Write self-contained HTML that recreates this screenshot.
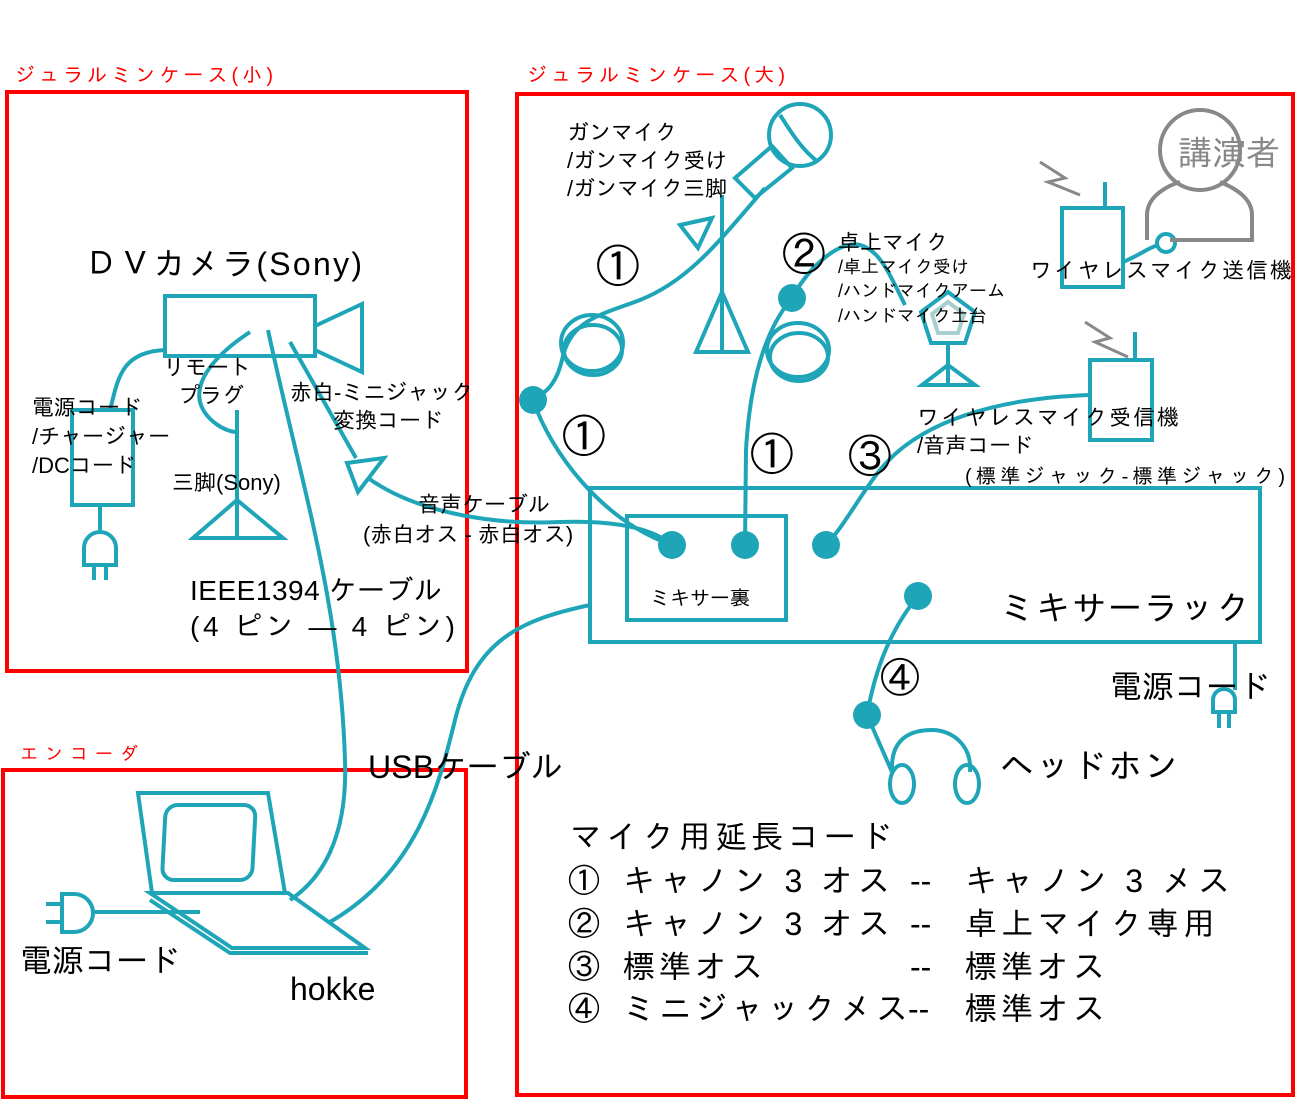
<!DOCTYPE html>
<html><head><meta charset="utf-8"><style>
html,body{margin:0;padding:0;background:#fff;}
svg{display:block;}
text{font-family:"Liberation Sans","IPAGothic","Noto Sans CJK JP",sans-serif;fill:#000;}
.r{fill:#f00;}
</style></head><body>
<svg width="1296" height="1100" viewBox="0 0 1296 1100" xmlns="http://www.w3.org/2000/svg">
<g fill="none" stroke="#f00" stroke-width="4">
<rect x="7" y="92" width="460" height="579"/>
<rect x="517" y="94" width="776" height="1001"/>
<rect x="3" y="770" width="463" height="327"/>
</g>
<text x="15" y="82" font-size="20" class="r" textLength="258">ジュラルミンケース(小)</text>
<text x="527" y="82" font-size="20" class="r" textLength="258">ジュラルミンケース(大)</text>
<text x="20" y="760" font-size="18" class="r" textLength="118">エンコーダ</text>

<g fill="none" stroke="#1fa5b8" stroke-width="4">
<rect x="165" y="296" width="150" height="60"/>
<polygon points="315,326 362,304 362,372 315,350"/>
<rect x="72" y="410" width="61" height="95"/>
<line x1="100" y1="505" x2="100" y2="530"/>
<path d="M84,565 L84,548 A16,16 0 0 1 116,548 L116,565 Z"/>
<line x1="94" y1="565" x2="94" y2="580"/><line x1="106" y1="565" x2="106" y2="580"/>
<path d="M110,410 C118,380 120,352 165,350"/>
<line x1="237" y1="410" x2="237" y2="538"/>
<polygon points="193,538 237,500 283,538"/>
<path d="M250,332 C215,355 195,380 200,402 C205,420 225,432 237,432"/>
<path d="M268,330 C300,480 340,600 345,760 C348,840 320,880 290,900"/>
<line x1="290" y1="342" x2="356" y2="458"/>
<polygon points="347,463 384,458 358,492"/>
<path d="M368,478 C420,515 500,525 560,522 C620,520 655,530 672,545"/>
<polygon points="138,793 268,793 285,893 152,893"/>
<rect x="165" y="805" width="90" height="75" rx="12" transform="skewX(-3) translate(43,0)"/>
<polygon points="150,893 288,893 365,948 232,948"/>
<polyline points="150,900 230,953 368,953"/>
<path d="M62,894 L74,894 A19,19 0 0 1 74,932 L62,932 Z"/>
<line x1="46" y1="904" x2="62" y2="904"/><line x1="46" y1="922" x2="62" y2="922"/>
<line x1="92" y1="912" x2="200" y2="912"/>
<path d="M330,922 C420,870 440,780 455,720 C475,640 520,620 590,605"/>
<rect x="590" y="488" width="670" height="154"/>
<rect x="627" y="516" width="159" height="104"/>
<line x1="1235" y1="642" x2="1235" y2="690"/>
<path d="M1213,712 L1213,700 A11,11 0 0 1 1235,700 L1235,712 Z"/>
<line x1="1219" y1="712" x2="1219" y2="728"/><line x1="1229" y1="712" x2="1229" y2="728"/>
<path d="M918,596 C890,630 875,670 867,715"/>
<path d="M867,715 L892,772"/>
<path d="M892,772 C890,735 915,730 932,730 C952,730 972,745 970,772"/>
<ellipse cx="902" cy="784" rx="12" ry="19"/>
<ellipse cx="967" cy="784" rx="12" ry="19"/>
<circle cx="800" cy="135" r="31"/>
<path d="M780,115 C790,130 800,148 818,162"/>
<polygon points="735,178 772,146 792,168 755,198"/>
<line x1="722" y1="195" x2="722" y2="352"/>
<polygon points="696,352 722,292 748,352"/>
<polygon points="680,225 712,218 698,248"/>
<path d="M765,188 C720,240 690,280 640,300 C600,315 570,320 562,360 C555,390 540,395 533,400"/>
<ellipse cx="592" cy="343" rx="31" ry="28"/>
<ellipse cx="593" cy="350" rx="29" ry="25"/>
<path d="M533,400 C550,450 600,520 672,545"/>
<path d="M792,298 C810,265 840,240 860,245 C880,250 890,275 905,305"/>
<polygon points="948,292 975,312 965,343 931,343 921,312"/>
<polygon points="948,302 964,314 958,333 938,333 932,314" stroke="#a8cfcf"/>
<line x1="948" y1="343" x2="948" y2="385"/>
<polygon points="922,385 948,365 975,385"/>
<ellipse cx="798" cy="350" rx="31" ry="27"/>
<ellipse cx="799" cy="357" rx="29" ry="24"/>
<path d="M792,298 C765,330 750,380 746,450 L745,545"/>
<rect x="1062" y="208" width="61" height="79"/>
<line x1="1105" y1="182" x2="1105" y2="208"/>
<path d="M1123,262 C1140,255 1148,248 1158,245"/>
<circle cx="1166" cy="243" r="9"/>
<rect x="1090" y="360" width="62" height="80"/>
<line x1="1135" y1="332" x2="1135" y2="360"/>
<path d="M1090,395 C1000,398 920,420 880,470 C860,495 845,525 826,545"/>
</g>
<g fill="none" stroke="#888" stroke-width="4">
<circle cx="1200" cy="150" r="40"/>
<path d="M1147,240 L1147,215 C1147,195 1170,185 1180,182 M1220,182 C1235,188 1252,198 1252,215 L1252,240 L1170,240"/>
<polyline points="1040,162 1065,178 1048,182 1080,195" stroke-width="3"/>
<polyline points="1085,322 1110,338 1095,342 1128,357" stroke-width="3"/>
</g>
<g fill="#1fa5b8">
<circle cx="533" cy="400" r="14"/>
<circle cx="792" cy="298" r="14"/>
<circle cx="672" cy="545" r="14"/>
<circle cx="745" cy="545" r="14"/>
<circle cx="826" cy="545" r="14"/>
<circle cx="918" cy="596" r="14"/>
<circle cx="867" cy="715" r="14"/>
</g>

<text x="85" y="275" font-size="32" textLength="277">ＤＶカメラ(Sony)</text>
<text x="32" y="415" font-size="22">電源コード</text>
<text x="32" y="444" font-size="22">/チャージャー</text>
<text x="32" y="473" font-size="22">/DCコード</text>
<text x="163" y="375" font-size="22">リモート</text>
<text x="178" y="403" font-size="22">プラグ</text>
<text x="172" y="490" font-size="22">三脚(Sony)</text>
<text x="290" y="400" font-size="22">赤白-ミニジャック</text>
<text x="333" y="428" font-size="22">変換コード</text>
<text x="418" y="512" font-size="22">音声ケーブル</text>
<text x="363" y="542" font-size="22">(赤白オス - 赤白オス)</text>
<text x="190" y="600" font-size="28" textLength="252">IEEE1394 ケーブル</text>
<text x="190" y="636" font-size="28" textLength="265">(4 ピン — 4 ピン)</text>
<text x="20" y="972" font-size="32">電源コード</text>
<text x="290" y="1000" font-size="32">hokke</text>
<text x="368" y="778" font-size="32" textLength="195">USBケーブル</text>

<text x="567" y="140" font-size="22">ガンマイク</text>
<text x="567" y="168" font-size="22">/ガンマイク受け</text>
<text x="567" y="196" font-size="22">/ガンマイク三脚</text>
<text x="838" y="250" font-size="22">卓上マイク</text>
<text x="838" y="273" font-size="18">/卓上マイク受け</text>
<text x="838" y="297" font-size="18">/ハンドマイクアーム</text>
<text x="838" y="322" font-size="18">/ハンドマイク土台</text>
<text x="1178" y="165" font-size="34" style="fill:#888">講演者</text>
<text x="1030" y="278" font-size="22" textLength="262">ワイヤレスマイク送信機</text>
<text x="917" y="425" font-size="22" textLength="262">ワイヤレスマイク受信機</text>
<text x="917" y="453" font-size="22">/音声コード</text>
<text x="965" y="483" font-size="20" textLength="320">(標準ジャック-標準ジャック)</text>
<text x="596" y="282" font-size="44">①</text>
<text x="562" y="452" font-size="44">①</text>
<text x="750" y="470" font-size="44">①</text>
<text x="782" y="270" font-size="44">②</text>
<text x="848" y="472" font-size="44">③</text>
<text x="880" y="692" font-size="40">④</text>
<text x="650" y="605" font-size="20">ミキサー裏</text>
<text x="1000" y="620" font-size="34" textLength="250">ミキサーラック</text>
<text x="1110" y="698" font-size="32">電源コード</text>
<text x="1000" y="778" font-size="34" textLength="178">ヘッドホン</text>

<text x="570" y="848" font-size="32" textLength="322">マイク用延長コード</text>
<g font-size="32">
<text x="568" y="892">①</text><text x="623" y="892" textLength="267">キャノン 3 オス</text><text x="910" y="892">--</text><text x="965" y="892" textLength="265">キャノン 3 メス</text>
<text x="568" y="935">②</text><text x="623" y="935" textLength="267">キャノン 3 オス</text><text x="910" y="935">--</text><text x="965" y="935" textLength="250">卓上マイク専用</text>
<text x="568" y="978">③</text><text x="623" y="978" textLength="140">標準オス</text><text x="910" y="978">--</text><text x="965" y="978" textLength="140">標準オス</text>
<text x="568" y="1020">④</text><text x="623" y="1020" textLength="285">ミニジャックメス</text><text x="908" y="1020">--</text><text x="965" y="1020" textLength="140">標準オス</text>
</g>
</svg>
</body></html>
